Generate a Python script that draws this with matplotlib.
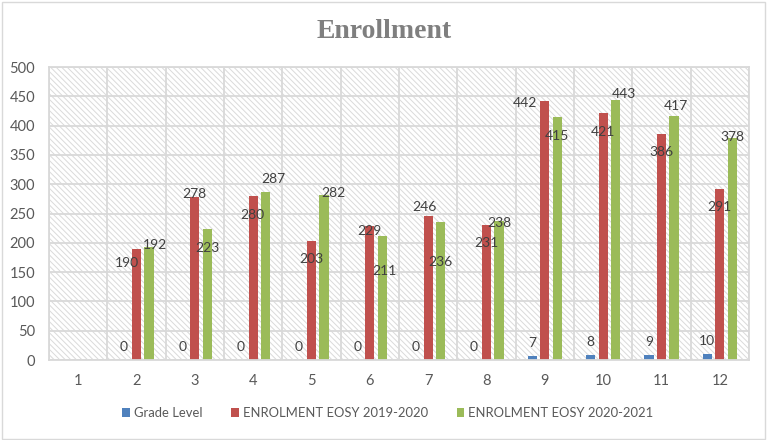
import numpy as np
import matplotlib
matplotlib.use("Agg")
import matplotlib.pyplot as plt
from matplotlib.patches import Rectangle

plt.rcParams['font.family'] = ['Lato', 'DejaVu Sans']
plt.rcParams['hatch.linewidth'] = 0.7

# data (grade 1 column is empty)
grades = [1, 2, 3, 4, 5, 6, 7, 8, 9, 10, 11, 12]
grade_level = [np.nan, 0, 0, 0, 0, 0, 0, 0, 7, 8, 9, 10]
enrol_1920 = [np.nan, 190, 278, 280, 203, 229, 246, 231, 442, 421, 386, 291]
enrol_2021 = [np.nan, 192, 223, 287, 282, 211, 236, 238, 415, 443, 417, 378]
series_names = ["Grade Level", "ENROLMENT EOSY 2019-2020", "ENROLMENT EOSY 2020-2021"]
colors = ["#4F81BD", "#C0504D", "#9BBB59"]

# label nudges in pixels (Excel placed them a bit randomly)
blue_off = [(0, 13)] * 12
red_off = [(0, 0), (-10, -14), (0, 3), (-1, -19), (0, -18), (0, -5), (-4, 9),
           (0, -18), (-20, -2), (0, -19), (0, -18), (0, -18)]
green_off = [(0, 0), (6, 2), (0, -19), (8, 13), (9, 2), (2, -35), (0, -40),
             (0, -2), (0, -19), (8, 6), (2, 10), (0, 1)]

fig = plt.figure(figsize=(7.68, 4.40), dpi=100)
ax = fig.add_axes([49 / 768, 1 - 360 / 440, 700 / 768, 293 / 440])

# chart border
fig.patches.append(Rectangle((0.002, 0.003), 0.994, 0.992, transform=fig.transFigure,
                             fill=False, edgecolor="#D9D9D9", linewidth=1))

# hatched plot area
ax.add_patch(Rectangle((0, 0), 1, 1, transform=ax.transAxes, facecolor="white",
                       edgecolor="#DADADA", linewidth=0, hatch="\\\\\\\\\\\\", zorder=0))

x = np.array(grades, dtype=float)
d = 0.214
w = 0.155
all_series = [grade_level, enrol_1920, enrol_2021]
offsets = [blue_off, red_off, green_off]
for i, (vals, off) in enumerate(zip(all_series, offsets)):
    vals = np.array(vals, dtype=float)
    ok = ~np.isnan(vals)
    xs = x[ok] + (i - 1) * d
    ax.bar(xs, vals[ok], width=w, color=colors[i], label=series_names[i], zorder=2)
    for xi, v, o in zip(xs, vals[ok], np.array(off)[ok]):
        ax.annotate(str(int(v)), (xi, v), xytext=o, textcoords="offset pixels",
                    ha="center", va="center", fontsize=10, color="#404040", zorder=3)

ax.set_xlim(0.5, 12.5)
ax.set_ylim(0, 500)
ax.set_yticks(range(0, 501, 50))
ax.set_xticks(grades)
ax.set_xticks(np.arange(0.5, 12.6, 1), minor=True)
ax.set_axisbelow(True)
ax.grid(axis="y", color="#D9D9D9", linewidth=1.3)
ax.grid(axis="x", which="minor", color="#D9D9D9", linewidth=1.3)
ax.tick_params(which="both", length=0, labelsize=10.5, labelcolor="#595959", pad=10)
for s in ax.spines.values():
    s.set_color("#D9D9D9")
    s.set_linewidth(1.3)

fig.text(0.5, 1 - 31 / 440, "Enrollment", ha="center", va="center", fontsize=20,
         fontweight="bold", color="#7F7F7F", family=["Liberation Serif", "DejaVu Serif"])

fig.legend(loc="center", bbox_to_anchor=(0.505, 1 - 413 / 440), ncol=3, frameon=False,
           handlelength=0.6, handleheight=0.6, handletextpad=0.3, columnspacing=2.2,
           fontsize=9.4, labelcolor="#595959")

fig.savefig("out.png", dpi=100)
